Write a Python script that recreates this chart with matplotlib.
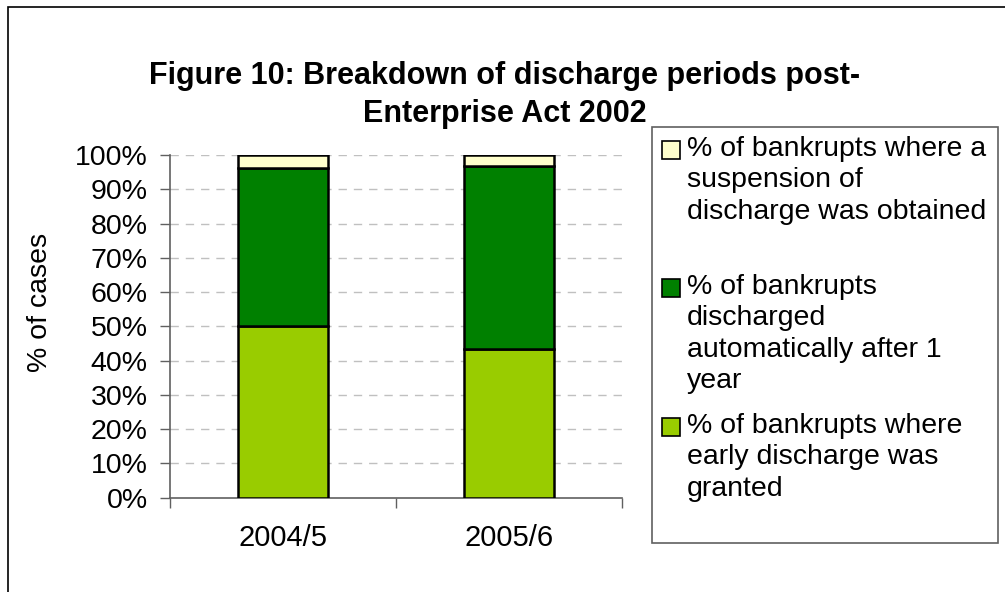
import matplotlib.pyplot as plt
from matplotlib.patches import Rectangle
import numpy as np

plt.rcParams['font.family'] = ['Liberation Sans', 'DejaVu Sans']

# Data
years = ['2004/5', '2005/6']
early = [50.0, 43.3]
automatic = [46.3, 53.5]
suspension = [3.7, 3.2]

series_labels = [
    '% of bankrupts where a\nsuspension of\ndischarge was obtained',
    '% of bankrupts\ndischarged\nautomatically after 1\nyear',
    '% of bankrupts where\nearly discharge was\ngranted',
]
colors = ['#FFFFCC', '#008000', '#99CC00']

W, H = 1005, 592
fs = 20.5
fig = plt.figure(figsize=(W / 100, H / 100), dpi=100)

# outer chart border (runs off the right and bottom edges)
fig.patches.append(Rectangle((8 / W, -0.1), 1.2, 1 - 7 / H + 0.1, transform=fig.transFigure,
                             fill=False, edgecolor='#000000', linewidth=1.2))

ax = fig.add_axes([170 / W, (H - 497.7) / H, 452 / W, 342.7 / H])
x = np.arange(len(years))
bw = 0.4
kw = dict(width=bw, edgecolor='black', linewidth=1.8, zorder=3)
ax.bar(x, early, color=colors[2], **kw)
ax.bar(x, automatic, bottom=early, color=colors[1], **kw)
ax.bar(x, suspension, bottom=np.add(early, automatic), color=colors[0], **kw)

ax.set_xlim(-0.5, 1.5)
ax.set_ylim(0, 100)
ax.set_yticks(np.arange(0, 101, 10))
ax.set_yticklabels([f'{v}%' for v in range(0, 101, 10)], fontsize=fs)
ax.set_xticks([-0.5, 0.5, 1.5])
ax.set_xticklabels([])
ax.tick_params(axis='both', direction='out', length=7, width=1, color='#606060')
ax.tick_params(axis='y', pad=9)
for v in range(10, 101, 10):
    ax.axhline(v, color='#c0c0c0', linewidth=1, dashes=(6, 5), zorder=1)
for s in ['top', 'right']:
    ax.spines[s].set_visible(False)
for s in ['left', 'bottom']:
    ax.spines[s].set_color('#606060')
    ax.spines[s].set_linewidth(1.2)

for xi, yr in zip(x, years):
    ax.text(xi, -11.8, yr, ha='center', va='center', fontsize=21)

fig.text(40 / W, 1 - 302 / H, '% of cases', rotation=90, ha='center', va='center', fontsize=fs)

fig.text(505 / W, 1 - 95 / H, 'Figure 10: Breakdown of discharge periods post-\nEnterprise Act 2002',
         ha='center', va='center', fontsize=22, fontweight='bold', linespacing=1.35)

# legend box
fig.patches.append(Rectangle((652 / W, 1 - 542.7 / H), 346 / W, 416 / H, transform=fig.transFigure,
                             fill=False, edgecolor='#606060', linewidth=1.2))
first_lines = [150, 288, 427]
for lab, col, yl in zip(series_labels, colors, first_lines):
    fig.patches.append(Rectangle((662 / W, 1 - (yl + 9) / H), 18 / W, 18 / H, transform=fig.transFigure,
                                 facecolor=col, edgecolor='black', linewidth=1.2))
    fig.text(687 / W, 1 - (yl - 14) / H, lab, ha='left', va='top', fontsize=fs, linespacing=1.27)

fig.savefig('out.png', dpi=100)
